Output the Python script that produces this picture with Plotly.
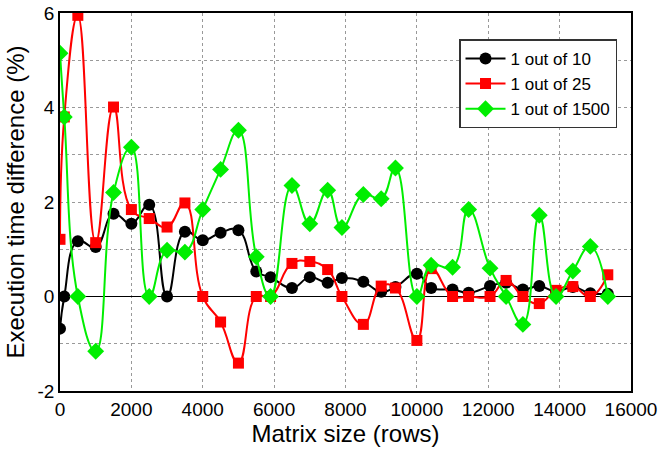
import plotly.graph_objects as go

# Matrix sizes (rows)
sizes = [0, 120, 500, 1000, 1500, 2000, 2500, 3000, 3500, 4000, 4500, 5000, 5500, 5900,
         6500, 7000, 7500, 7900, 8500, 9000, 9400, 10000, 10400, 11000, 11450, 12050,
         12500, 12970, 13430, 13900, 14370, 14860, 15350]

one_in_10 = [-0.68, 0, 1.17, 1.05, 1.75, 1.54, 1.94, 0, 1.37, 1.19, 1.35, 1.40, 0.53, 0.41,
             0.18, 0.41, 0.29, 0.39, 0.31, 0.10, 0.20, 0.48, 0.18, 0.15, 0.08, 0.22,
             0.29, 0.15, 0.22, 0.10, 0.20, 0.07, 0.06]

one_in_25 = [1.21, 3.80, 5.95, 1.14, 4.01, 1.84, 1.65, 1.47, 1.98, 0, -0.54, -1.41, 0, 0,
             0.70, 0.74, 0.57, 0, -0.59, 0.22, 0.18, -0.93, 0.59, 0, 0, 0,
             0.34, 0, -0.15, 0.13, 0.21, 0, 0.46]

one_in_1500 = [5.15, 3.80, 0, -1.16, 2.20, 3.16, 0, 0.98, 0.94, 1.84, 2.69, 3.52, 0.84, 0,
               2.35, 1.54, 2.25, 1.46, 2.16, 2.07, 2.72, 0, 0.66, 0.62, 1.84, 0.60,
               0, -0.59, 1.72, 0, 0.54, 1.06, 0]

series_names = ["1 out of 10", "1 out of 25", "1 out of 1500"]
x_ticks = [0, 2000, 4000, 6000, 8000, 10000, 12000, 14000, 16000]
y_ticks = [-2, 0, 2, 4, 6]

FONT = "Liberation Sans, Arial, sans-serif"

fig = go.Figure()
styles = [
    dict(color="#000000", symbol="circle", size=12),
    dict(color="#ff0000", symbol="square", size=11),
    dict(color="#00ee00", symbol="diamond", size=13),
]
for name, ys, st in zip(series_names, [one_in_10, one_in_25, one_in_1500], styles):
    fig.add_trace(go.Scatter(
        x=sizes, y=ys, name=name, mode="lines+markers",
        line=dict(color=st["color"], width=2, shape="spline", smoothing=1.3),
        marker=dict(color=st["color"], symbol=st["symbol"], size=st["size"],
                    line=dict(width=0)),
        cliponaxis=True,
    ))

grid_color = "#999999"
fig.update_layout(
    width=659, height=449,
    margin=dict(l=60, r=28, t=13, b=58, autoexpand=False),
    paper_bgcolor="white", plot_bgcolor="white",
    font=dict(family=FONT, color="black"),
    showlegend=True,
    legend=dict(
        x=0.9755, y=0.93, xanchor="right", yanchor="top",
        bgcolor="white", bordercolor="#333333", borderwidth=1.5,
        font=dict(size=17, family=FONT),
        itemwidth=40, tracegroupgap=0,
    ),
    xaxis=dict(
        range=[0, 16000], tickvals=x_ticks, ticktext=[str(v) for v in x_ticks],
        showgrid=True, gridcolor=grid_color, griddash="dot", gridwidth=1,
        showline=True, linecolor="black", linewidth=1.5, mirror=True,
        ticks="", zeroline=False, automargin=False, ticklabeloverflow="allow",
        tickfont=dict(size=19, family=FONT),
        title=dict(text="Matrix size (rows)", font=dict(size=24, family=FONT), standoff=4),
    ),
    yaxis=dict(
        range=[-2, 6], tickvals=y_ticks, ticktext=[str(v) for v in y_ticks],
        showgrid=True, gridcolor=grid_color, griddash="dot", gridwidth=1,
        minor=dict(dtick=1, showgrid=True, gridcolor=grid_color, griddash="dot", gridwidth=1),
        showline=True, linecolor="black", linewidth=1.5, mirror=True,
        ticks="", zeroline=True, zerolinecolor="black", zerolinewidth=1.2, automargin=False,
        ticklabeloverflow="allow",
        tickfont=dict(size=19, family=FONT),
        title=dict(text="Execution time difference (%)", font=dict(size=24, family=FONT), standoff=6),
    ),
)

# remove the page's default body margin so the figure fills the window exactly
fig.write_html("out.html", config={"displayModeBar": False},
               post_script="document.body.style.margin='0';")
